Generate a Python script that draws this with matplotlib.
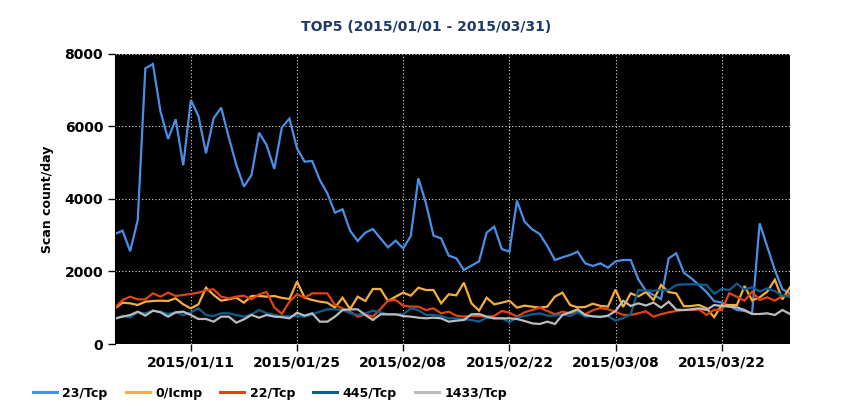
import matplotlib
matplotlib.use("Agg")
import matplotlib.pyplot as plt
import matplotlib.dates as mdates
import numpy as np
import pandas as pd

dates = pd.date_range("2015-01-01", "2015-03-31", freq="D")

tcp23 = [3030, 3120, 2553, 3415, 7590, 7711, 6400, 5646, 6188, 4921,
         6720, 6279, 5252, 6215, 6508, 5692, 4930, 4333, 4654, 5820,
         5472, 4820, 5967, 6205, 5389, 5021, 5040, 4517, 4150, 3617,
         3709, 3120, 2837, 3066, 3167, 2910, 2662, 2846, 2635, 2974,
         4563, 3874, 2983, 2910, 2433, 2360, 2038, 2157, 2277, 3066,
         3231, 2616, 2543, 3947, 3369, 3159, 3029, 2699, 2313, 2387,
         2451, 2543, 2222, 2148, 2222, 2102, 2277, 2313, 2313, 1781,
         1469, 1349, 1239, 2359, 2497, 1965, 1808, 1625, 1430, 1180,
         1140, 1050, 936, 910, 845, 3323, 2680, 2038, 1506, 1396]

icmp0 = [982, 1138, 1120, 1074, 1166, 1184, 1193, 1184, 1258, 1092,
         982, 1092, 1551, 1350, 1193, 1230, 1276, 1138, 1322, 1322,
         1304, 1322, 1270, 1239, 1717, 1276, 1212, 1166, 1138, 1001,
         1276, 964, 1304, 1184, 1515, 1515, 1184, 1304, 1414, 1331,
         1551, 1487, 1487, 1120, 1368, 1340, 1689, 1120, 918, 1276,
         1092, 1138, 1193, 1001, 1056, 1028, 1001, 1028, 1304, 1414,
         1074, 1010, 1020, 1110, 1050, 1030, 1500, 1020, 1395, 1310,
         1430, 1212, 1625, 1430, 1395, 1040, 1047, 1074, 982, 740,
         1074, 1074, 1074, 1597, 1200, 1285, 1441, 1770, 1230, 1561]

tcp22 = [1001, 1212, 1304, 1230, 1230, 1395, 1304, 1414, 1322, 1350,
         1377, 1414, 1478, 1506, 1304, 1258, 1304, 1331, 1230, 1368,
         1432, 1010, 830, 1166, 1368, 1276, 1395, 1395, 1395, 1074,
         982, 890, 753, 817, 753, 964, 1193, 1212, 1056, 1028,
         1028, 936, 982, 845, 890, 780, 753, 780, 771, 753,
         771, 909, 863, 753, 872, 936, 1001, 909, 817, 890,
         845, 890, 820, 930, 990, 955, 890, 800, 799, 845,
         900, 753, 820, 870, 910, 936, 936, 950, 799, 945,
         936, 1400, 1300, 1193, 1441, 1212, 1285, 1193, 1322, 1350]

tcp445 = [679, 780, 734, 872, 845, 918, 890, 826, 872, 799,
          872, 982, 799, 771, 845, 845, 799, 753, 817, 936,
          845, 799, 760, 771, 771, 753, 817, 890, 955, 955,
          936, 845, 799, 845, 918, 872, 817, 817, 817, 982,
          936, 799, 799, 771, 707, 707, 679, 661, 615, 725,
          707, 707, 597, 725, 771, 817, 845, 780, 780, 817,
          771, 872, 753, 771, 753, 771, 643, 715, 820, 1487,
          1469, 1469, 1487, 1487, 1625, 1643, 1643, 1643, 1625, 1385,
          1515, 1487, 1660, 1500, 1561, 1450, 1533, 1455, 1335, 1295]

tcp1433 = [707, 753, 799, 890, 780, 918, 872, 753, 872, 890,
           799, 689, 689, 615, 753, 753, 588, 679, 799, 725,
           799, 753, 740, 707, 863, 780, 845, 615, 615, 753,
           936, 955, 955, 799, 661, 817, 817, 817, 771, 753,
           725, 707, 725, 707, 615, 643, 661, 817, 826, 753,
           707, 707, 707, 689, 633, 569, 551, 615, 551, 799,
           872, 955, 799, 760, 745, 780, 910, 1190, 1047, 1120,
           1060, 1140, 1000, 1166, 945, 936, 955, 982, 936, 1074,
           1047, 1028, 1010, 936, 826, 826, 845, 799, 936, 826]

labels = ["23/Tcp", "0/Icmp", "22/Tcp", "445/Tcp", "1433/Tcp"]
colors = ["#4a8fe6", "#f7ad3b", "#e2430f", "#0c5f8e", "#bcbcbc"]
series = [tcp23, icmp0, tcp22, tcp445, tcp1433]

yticks = [0, 2000, 4000, 6000, 8000]
xtick_dates = pd.to_datetime(["2015-01-11", "2015-01-25", "2015-02-08",
                              "2015-02-22", "2015-03-08", "2015-03-22"])

plt.rcParams['font.family'] = ['DejaVu Sans']

fig = plt.figure(figsize=(8.5, 4.2), dpi=100)
ax = fig.add_axes([115/850, 76/420, 675/850, 290.5/420])
ax.set_facecolor("black")

for s, c, l in zip(series, colors, labels):
    ax.plot(dates, s, color=c, lw=1.6, label=l, solid_joinstyle='miter')

ax.set_xlim(dates[0], dates[-1])
ax.set_ylim(0, 8000)
ax.set_yticks(yticks)
ax.set_yticklabels([str(v) for v in yticks])
ax.set_xticks(xtick_dates)
ax.xaxis.set_major_formatter(mdates.DateFormatter("%Y/%m/%d"))
ax.grid(True, color="#dddddd", linestyle=(0, (1, 2)), linewidth=0.8)
ax.tick_params(axis='both', direction='out', length=5, width=1, color='black',
               labelsize=10)
for lab in ax.get_xticklabels() + ax.get_yticklabels():
    lab.set_fontweight('bold')
for sp in ax.spines.values():
    sp.set_visible(False)
ax.spines['left'].set_visible(True)
ax.spines['left'].set_color('black')

fig.text(426/850, 1 - 27/420, "TOP5 (2015/01/01 - 2015/03/31)", ha='center',
         va='center', fontsize=10, fontweight='bold', color='#1e3a66')
fig.text(47/850, 1 - 199/420, "Scan count/day", rotation=90, ha='center',
         va='center', fontsize=9, fontweight='bold', color='black')

leg = fig.legend(loc='center left', bbox_to_anchor=(33/850, 1 - 393/420),
                 ncol=5, frameon=False, borderpad=0, borderaxespad=0,
                 handlelength=1.9, handletextpad=0.45, columnspacing=1.45,
                 prop={'size': 9, 'weight': 'bold'})
for line in leg.get_lines():
    line.set_linewidth(2.2)

fig.savefig("out.png", dpi=100, facecolor='white')
